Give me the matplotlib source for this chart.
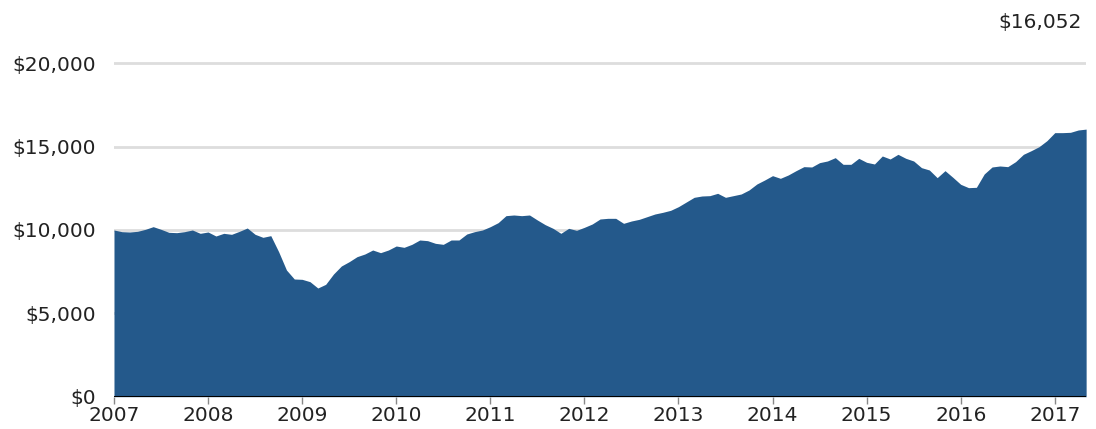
import matplotlib
matplotlib.use("Agg")
import matplotlib.pyplot as plt
import matplotlib.transforms as mtransforms
import numpy as np

# Monthly values of a hypothetical $10,000 investment (Jan 2007 - May 2017)
values = [
    10000, 9900, 9880, 9920, 10040, 10200, 10040, 9860, 9840, 9900, 10000, 9800,
    9880, 9640, 9800, 9740, 9920, 10120, 9740, 9560, 9660, 8700, 7600, 7060,
    7040, 6900, 6520, 6740, 7360, 7840, 8100, 8400, 8560, 8800, 8640, 8800,
    9040, 8960, 9140, 9400, 9360, 9200, 9140, 9400, 9400, 9760, 9900, 10000,
    10200, 10440, 10860, 10900, 10860, 10900, 10600, 10320, 10100, 9800, 10100, 9980,
    10160, 10360, 10660, 10700, 10700, 10400, 10540, 10640, 10800, 10960, 11060, 11180,
    11400, 11680, 11960, 12040, 12060, 12200, 11960, 12060, 12160, 12400, 12760, 13000,
    13260, 13100, 13300, 13560, 13800, 13780, 14040, 14140, 14340, 13940, 13940, 14300,
    14060, 13960, 14440, 14260, 14540, 14300, 14140, 13740, 13600, 13140, 13560, 13160,
    12740, 12540, 12560, 13360, 13780, 13840, 13800, 14100, 14540, 14760, 15000, 15360,
    15840, 15840, 15860, 16000, 16052,
]
start_year = 2007
year_ticks = list(range(2007, 2018))
y_ticks = [0, 5000, 10000, 15000, 20000]
y_tick_labels = ["$0", "$5,000", "$10,000", "$15,000", "$20,000"]
final_label = "$16,052"

x = start_year + np.arange(len(values)) / 12.0
vals = np.array(values, dtype=float)

fig = plt.figure(figsize=(10.96, 4.29), dpi=100)
ax = fig.add_axes([0.104, 0.0753, 0.887, 0.816])

fill_color = "#24598b"
ax.fill_between(x, 0, vals, color=fill_color, lw=0, zorder=3)

ax.set_xlim(x[0], x[-1])
ax.set_ylim(0, 21000)

for yv in y_ticks[1:]:
    ax.axhline(yv, color="#dddddd", lw=2, zorder=1)
ax.axhline(0, color="black", lw=2.2, zorder=4)

for s in ax.spines.values():
    s.set_visible(False)

ax.set_yticks(y_ticks)
ax.set_yticklabels(y_tick_labels)
ax.tick_params(axis="y", length=0, pad=13, labelsize=14.5, labelcolor="#222222")
ax.set_xticks(year_ticks)
ax.set_xticklabels([str(y) for y in year_ticks])
ax.tick_params(axis="x", length=5, width=1, color="#888888", pad=2,
               labelsize=14.5, labelcolor="#222222")

trans = mtransforms.blended_transform_factory(ax.transData, ax.transAxes)
ax.text(x[-1] - 0.05, 1.07, final_label, transform=trans, ha="right", va="center",
        fontsize=14.5, color="#222222", clip_on=False)

fig.savefig("out.png", dpi=100)
